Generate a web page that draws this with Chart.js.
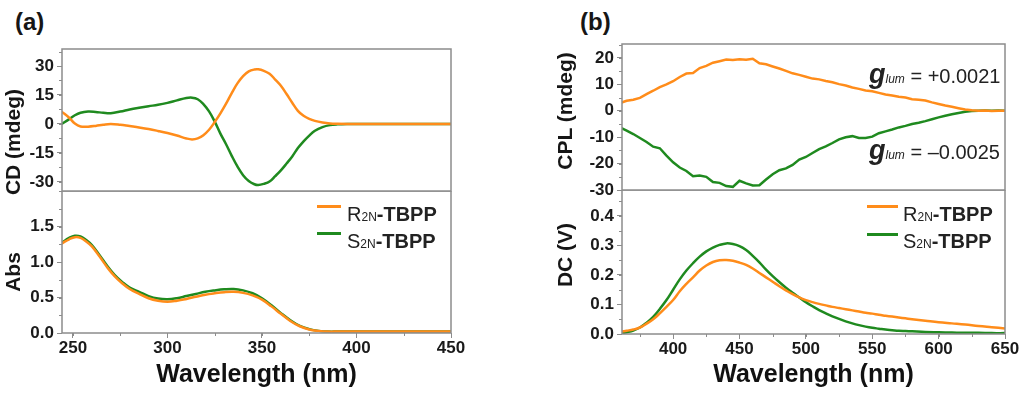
<!DOCTYPE html>
<html>
<head>
<meta charset="utf-8">
<script src="https://cdn.jsdelivr.net/npm/chart.js@4.4.1/dist/chart.umd.min.js"></script>
<style>
  body { margin: 0; background: #fff; }
  #wrap { position: relative; width: 1024px; height: 395px; overflow: hidden;
          font-family: "Liberation Sans", Arial, sans-serif; color: #161616; }
  canvas { position: absolute; }
  .txt { position: absolute; white-space: nowrap; line-height: 1; }
  .panel { font-size: 24px; font-weight: bold; }
  .ytitle { font-size: 21px; font-weight: bold; transform: translate(-50%, -50%) rotate(-90deg); }
  .leg { font-size: 20px; color: #222; }
  .leg .sm { font-size: 12px; }
  .leg-line { position: absolute; height: 3px; }
  .ann { font-size: 20px; color: #222; }
  .ann .g { font-size: 27px; font-weight: bold; font-style: italic; line-height: 1; }
  .ann .sm { font-size: 12px; font-style: italic; }
</style>
</head>
<body>
<div id="wrap">
  <canvas id="cdChart" width="470" height="161" style="left:0;top:40px"></canvas>
  <canvas id="absChart" width="470" height="204" style="left:0;top:191px"></canvas>
  <canvas id="cplChart" width="514" height="165" style="left:510px;top:35px"></canvas>
  <canvas id="dcChart" width="514" height="205" style="left:510px;top:190px"></canvas>

  <div class="txt panel" style="left:15px;top:10px">(a)</div>
  <div class="txt panel" style="left:580px;top:10px">(b)</div>

  <div class="txt ytitle" style="left:12px;top:142px">CD (mdeg)</div>
  <div class="txt ytitle" style="left:12px;top:272px">Abs</div>
  <div class="txt ytitle" style="left:564px;top:111px">CPL (mdeg)</div>
  <div class="txt ytitle" style="left:564px;top:255px">DC (V)</div>

  <div class="leg-line" style="left:317px;top:205px;width:24px;background:#ff8c1a"></div>
  <div class="txt leg" style="left:347px;top:204px">R<span class="sm">2N</span><b>-TBPP</b></div>
  <div class="leg-line" style="left:317px;top:232px;width:24px;background:#1f8a1f"></div>
  <div class="txt leg" style="left:347px;top:231px">S<span class="sm">2N</span><b>-TBPP</b></div>

  <div class="leg-line" style="left:867px;top:205px;width:31px;background:#ff8c1a"></div>
  <div class="txt leg" style="left:903px;top:204px">R<span class="sm">2N</span><b>-TBPP</b></div>
  <div class="leg-line" style="left:867px;top:233px;width:31px;background:#1f8a1f"></div>
  <div class="txt leg" style="left:903px;top:231px">S<span class="sm">2N</span><b>-TBPP</b></div>

  <div class="txt ann" style="left:869px;top:61px"><span class="g">g</span><span class="sm">lum</span> = +0.0021</div>
  <div class="txt ann" style="left:869px;top:137px"><span class="g">g</span><span class="sm">lum</span> = &ndash;0.0025</div>
</div>
<script>
var ORANGE = '#ff8c1a';
var GREEN = '#1f8a1f';
var AXIS = '#8c8c8c';
var FONT = '"Liberation Sans", Arial, sans-serif';

// (a) CD spectra, mdeg
var cdWavelength = [244, 248, 251, 254, 258, 262, 266, 270, 275, 280, 285, 290, 295, 300, 305, 310,
  313, 316, 319, 322, 325, 328, 331, 334, 337, 340, 343, 346, 348, 351, 354, 357, 360, 363, 366,
  369, 372, 375, 378, 382, 386, 390, 395, 400, 410, 420, 430, 440, 450];
var cdR = [6.4, 3.2, 0.2, -1.3, -1.4, -1.0, -0.4, 0.0, -0.4, -1.1, -1.8, -2.6, -3.6, -4.7, -6.0, -7.5,
  -8.0, -7.5, -5.8, -3.0, 1.0, 5.5, 10.5, 16.0, 21.0, 24.8, 27.2, 28.2, 28.3, 27.5, 26.0, 23.0, 19.8,
  15.5, 11.0, 6.8, 4.2, 2.6, 1.6, 0.8, 0.3, 0.1, 0, 0, 0, 0, 0, 0, 0];
var cdS = [0.0, 2.5, 4.5, 5.8, 6.4, 6.2, 5.8, 5.6, 6.4, 7.5, 8.4, 9.2, 9.9, 10.9, 12.2, 13.4,
  13.6, 12.8, 10.3, 6.5, 1.2, -5.0, -10.5, -16.5, -22.0, -26.5, -29.5, -31.2, -31.6, -31.0, -29.8,
  -27.0, -24.0, -20.5, -16.8, -12.5, -9.0, -6.0, -3.5, -1.6, -0.6, -0.2, 0, 0, 0, 0, 0, 0, 0];

// (a) absorption
var absWavelength = [244, 248, 251, 254, 257, 260, 264, 268, 272, 276, 280, 285, 290, 295, 300, 305,
  310, 315, 320, 325, 330, 335, 340, 345, 350, 355, 360, 365, 370, 375, 380, 385, 390, 400, 410,
  420, 430, 440, 450];
var absR = [1.26, 1.32, 1.35, 1.34, 1.29, 1.22, 1.08, 0.93, 0.80, 0.70, 0.62, 0.55, 0.49, 0.455, 0.44,
  0.455, 0.48, 0.51, 0.54, 0.56, 0.575, 0.58, 0.565, 0.53, 0.47, 0.375, 0.27, 0.17, 0.095, 0.05,
  0.03, 0.02, 0.02, 0.02, 0.02, 0.02, 0.02, 0.02, 0.02];
var absS = [1.27, 1.34, 1.37, 1.36, 1.31, 1.24, 1.10, 0.95, 0.82, 0.72, 0.64, 0.58, 0.52, 0.485, 0.475,
  0.49, 0.52, 0.55, 0.58, 0.60, 0.615, 0.62, 0.60, 0.56, 0.49, 0.39, 0.28, 0.18, 0.10, 0.055,
  0.03, 0.02, 0.02, 0.02, 0.02, 0.02, 0.02, 0.02, 0.02];

// (b) CPL, mdeg
var cplWavelength = [361, 365, 370, 375, 380, 385, 390, 395, 400, 405,
  410, 415, 420, 425, 430, 435, 440, 445, 450, 455,
  460, 465, 470, 475, 480, 485, 490, 495, 500, 505,
  510, 515, 520, 525, 530, 535, 540, 545, 550, 555,
  560, 565, 570, 575, 580, 585, 590, 595, 600, 605,
  610, 615, 620, 625, 630, 635, 640, 645, 650];
var cplR = [3.1, 3.8, 4.2, 4.9, 6.3, 7.6, 9.0, 10.0, 11.2, 12.8,
  14.1, 14.3, 16.2, 17.0, 18.2, 18.8, 19.4, 19.2, 19.5, 19.3,
  19.7, 18.0, 17.6, 16.8, 16.0, 15.1, 14.2, 13.6, 12.9, 12.2,
  11.9, 11.3, 10.8, 10.1, 9.6, 8.8, 8.3, 7.7, 7.4, 6.8,
  6.2, 5.8, 5.3, 5.0, 4.4, 4.2, 3.9, 3.2, 2.6, 2.0,
  1.5, 1.0, 0.5, 0.2, 0.0, 0.1, -0.1, 0.0, 0.0];
var cplS = [-6.5, -7.5, -8.8, -10.3, -11.8, -13.6, -14.2, -17.0, -19.5, -21.5,
  -22.8, -24.8, -24.5, -25.0, -27.0, -27.3, -28.5, -28.8, -26.5, -27.5,
  -28.3, -28.2, -26.0, -24.0, -22.5, -21.8, -20.5, -18.5, -17.5, -16.0,
  -14.5, -13.5, -12.2, -10.8, -10.0, -9.6, -10.3, -10.3, -9.8, -8.5,
  -7.8, -7.1, -6.3, -5.7, -5.0, -4.5, -3.9, -3.2, -2.5, -1.9,
  -1.3, -0.8, -0.4, -0.1, 0.0, 0.1, 0.0, 0.1, 0.0];

// (b) DC, V
var dcWavelength = [361, 365, 370, 375, 380, 385, 390, 395, 400, 405, 410, 415, 420, 425, 430, 435,
  440, 445, 450, 455, 460, 465, 470, 475, 480, 485, 490, 495, 500, 505, 510, 515, 520, 525, 530,
  535, 540, 545, 550, 555, 560, 565, 570, 575, 580, 590, 600, 610, 620, 630, 640, 650];
var dcR = [0.008, 0.011, 0.015, 0.022, 0.035, 0.05, 0.07, 0.092, 0.115, 0.145, 0.17, 0.192, 0.215,
  0.232, 0.244, 0.25, 0.251, 0.248, 0.242, 0.234, 0.222, 0.207, 0.192, 0.177, 0.162, 0.148, 0.135,
  0.124, 0.115, 0.108, 0.102, 0.097, 0.092, 0.088, 0.084, 0.080, 0.076, 0.072, 0.069, 0.065, 0.062,
  0.059, 0.056, 0.053, 0.05, 0.045, 0.04, 0.036, 0.032, 0.027, 0.023, 0.019];
var dcS = [0.002, 0.006, 0.012, 0.022, 0.038, 0.058, 0.085, 0.115, 0.15, 0.185, 0.215, 0.24, 0.262,
  0.28, 0.293, 0.302, 0.307, 0.305, 0.298, 0.285, 0.265, 0.243, 0.218, 0.196, 0.176, 0.157, 0.14,
  0.124, 0.108, 0.094, 0.081, 0.07, 0.06, 0.051, 0.043, 0.036, 0.03, 0.025, 0.021, 0.018, 0.015,
  0.013, 0.011, 0.01, 0.009, 0.007, 0.006, 0.005, 0.004, 0.004, 0.003, 0.003];

// tick labels
var xTicksA = [250, 300, 350, 400, 450];
var xTicksB = [400, 450, 500, 550, 600, 650];
var cdTicks = [-30, -15, 0, 15, 30];
var absTicks = [0, 0.5, 1.0, 1.5];
var cplTicks = [-30, -20, -10, 0, 10, 20];
var dcTicks = [0, 0.1, 0.2, 0.3, 0.4];

function points(xs, ys) {
  return xs.map(function (x, i) { return { x: x, y: ys[i] }; });
}

function line(label, xs, ys, color, tension) {
  return { label: label, data: points(xs, ys), borderColor: color, borderWidth: 2.5,
    pointRadius: 0, tension: tension, fill: false };
}

// box round the plot plus short minor ticks
var frame = {
  id: 'frame',
  afterDraw: function (chart, args, opts) {
    var ctx = chart.ctx, a = chart.chartArea;
    var x = chart.scales.x, y = chart.scales.y, k, p;
    ctx.save();
    ctx.strokeStyle = AXIS;
    ctx.lineWidth = 1.5;
    ctx.strokeRect(a.left, a.top, a.right - a.left, a.bottom - a.top);
    ctx.lineWidth = 1;
    ctx.beginPath();
    if (opts.yMinor) {
      for (k = Math.ceil(y.min / opts.yMinor); k * opts.yMinor <= y.max + 1e-9; k++) {
        p = Math.round(y.getPixelForValue(k * opts.yMinor)) + 0.5;
        ctx.moveTo(a.left - 3, p); ctx.lineTo(a.left, p);
      }
    }
    if (opts.xMinor) {
      for (k = Math.ceil(x.min / opts.xMinor); k * opts.xMinor <= x.max + 1e-9; k++) {
        p = Math.round(x.getPixelForValue(k * opts.xMinor)) + 0.5;
        ctx.moveTo(p, a.bottom); ctx.lineTo(p, a.bottom + 3);
      }
    }
    ctx.stroke();
    ctx.restore();
  }
};

function yAxis(min, max, ticks, width, digits) {
  return {
    type: 'linear', min: min, max: max,
    afterBuildTicks: function (s) { s.ticks = ticks.map(function (v) { return { value: v }; }); },
    afterFit: function (s) { s.width = width; s.paddingTop = 0; s.paddingBottom = 0; },
    grid: { drawOnChartArea: false, tickLength: 5, color: AXIS },
    border: { display: false },
    ticks: { font: { family: FONT, size: 17, weight: 'bold' }, color: '#1a1a1a', padding: 3,
      callback: function (v) { return digits ? v.toFixed(digits) : String(v); } }
  };
}

function xAxis(min, max, ticks, height) {
  if (!ticks) return { type: 'linear', min: min, max: max, display: false };
  return {
    type: 'linear', min: min, max: max,
    afterBuildTicks: function (s) { s.ticks = ticks.map(function (v) { return { value: v }; }); },
    afterFit: function (s) { s.height = height; s.paddingLeft = 0; s.paddingRight = 0; },
    grid: { drawOnChartArea: false, tickLength: 5, color: AXIS },
    border: { display: false },
    ticks: { font: { family: FONT, size: 17, weight: 'bold' }, color: '#1a1a1a', padding: 0,
      maxRotation: 0, autoSkip: false },
    title: { display: true, text: 'Wavelength (nm)', color: '#111',
      font: { family: FONT, size: 25, weight: 'bold' }, padding: { top: 0, bottom: 5 } }
  };
}

function makeChart(id, datasets, x, y, padTop, padBottom, minors) {
  var ctx = document.getElementById(id).getContext('2d');
  return new Chart(ctx, {
    type: 'line',
    data: { datasets: datasets },
    options: {
      responsive: false, animation: false, devicePixelRatio: 1,
      layout: { padding: { top: padTop, right: 19, bottom: padBottom, left: 0 } },
      scales: { x: x, y: y },
      plugins: { legend: { display: false }, tooltip: { enabled: false }, frame: minors }
    },
    plugins: [frame]
  });
}

makeChart('cdChart',
  [line('R2N-TBPP', cdWavelength, cdR, ORANGE, 0.4), line('S2N-TBPP', cdWavelength, cdS, GREEN, 0.4)],
  xAxis(244.2, 450), yAxis(-34.7, 38.8, cdTicks, 62, 0), 9, 10, { yMinor: 7.5 });

makeChart('absChart',
  [line('R2N-TBPP', absWavelength, absR, ORANGE, 0.4), line('S2N-TBPP', absWavelength, absS, GREEN, 0.4)],
  xAxis(244.2, 450, xTicksA, 62), yAxis(0, 2.0, absTicks, 62, 1), 0, 0, { yMinor: 0.25, xMinor: 25 });

makeChart('cplChart',
  [line('R2N-TBPP', cplWavelength, cplR, ORANGE, 0), line('S2N-TBPP', cplWavelength, cplS, GREEN, 0)],
  xAxis(361.5, 650), yAxis(-30, 25.3, cplTicks, 112, 0), 9, 10, { yMinor: 5 });

makeChart('dcChart',
  [line('R2N-TBPP', dcWavelength, dcR, ORANGE, 0.4), line('S2N-TBPP', dcWavelength, dcS, GREEN, 0.4)],
  xAxis(361.5, 650, xTicksB, 61), yAxis(0, 0.488, dcTicks, 112, 1), 0, 0, { yMinor: 0.05, xMinor: 25 });
</script>
</body>
</html>
